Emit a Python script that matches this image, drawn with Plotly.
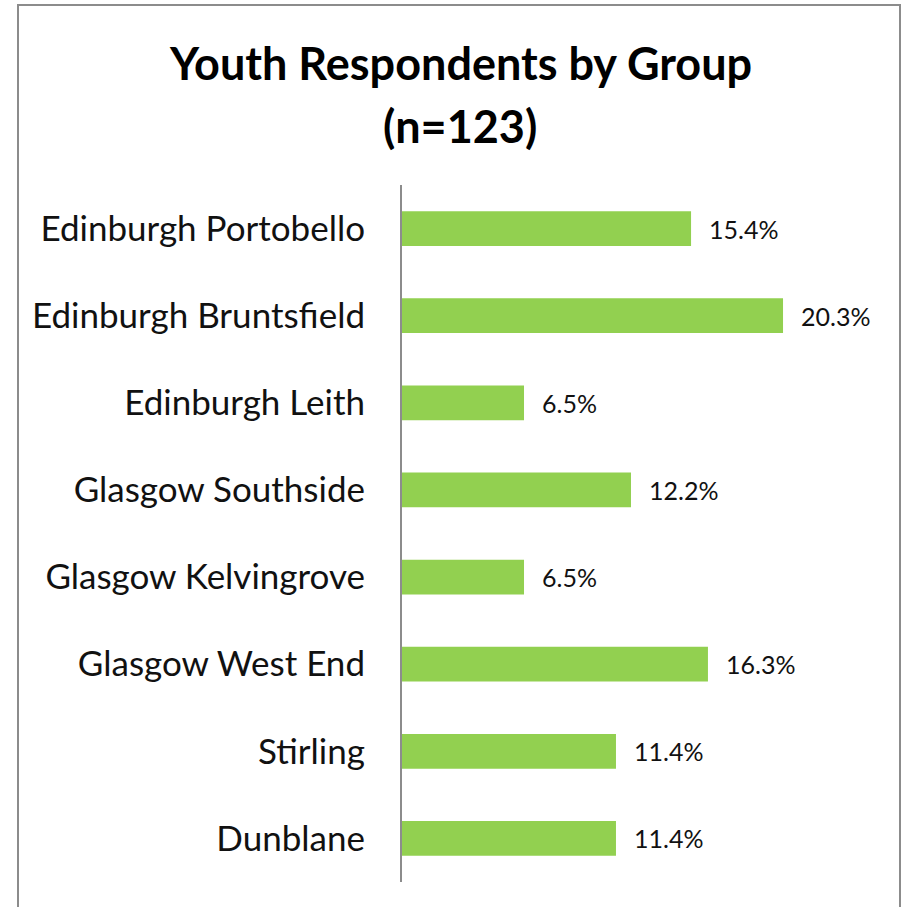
import plotly.graph_objects as go

categories = ["Edinburgh Portobello", "Edinburgh Bruntsfield", "Edinburgh Leith",
              "Glasgow Southside", "Glasgow Kelvingrove", "Glasgow West End",
              "Stirling", "Dunblane"]
values = [15.4, 20.3, 6.5, 12.2, 6.5, 16.3, 11.4, 11.4]
labels = [f"{v:.1f}%" for v in values]

W, H = 901, 907
L, R, T, B = 402, 21, 185, 25
pw, ph = W - L - R, H - T - B

def px_x(x):
    return (x - L) / pw

def px_y(y):
    return (H - B - y) / ph

FONT = "Lato"

fig = go.Figure(go.Bar(
    x=values, y=categories, orientation="h",
    marker=dict(color="#92D050", line=dict(width=0)),
    width=0.4,
))

annotations = [
    dict(text="Youth Respondents by Group", xref="paper", yref="paper",
         x=px_x(460), y=px_y(63), xanchor="center", yanchor="middle",
         showarrow=False, font=dict(family=FONT, size=45, color="black", weight="bold")),
    dict(text="(n=123)", xref="paper", yref="paper",
         x=px_x(460), y=px_y(126), xanchor="center", yanchor="middle",
         showarrow=False, font=dict(family=FONT, size=45, color="black", weight="bold")),
]
for c, v, t in zip(categories, values, labels):
    annotations.append(dict(text=t, x=v, y=c, xref="x", yref="y", xanchor="left",
                            yanchor="middle", xshift=16, showarrow=False,
                            font=dict(family=FONT, size=25, color="#111111")))

fig.update_layout(
    width=W, height=H,
    margin=dict(l=L, r=R, t=T, b=B),
    paper_bgcolor="white", plot_bgcolor="white",
    showlegend=False,
    xaxis=dict(range=[0, pw / 18.77], visible=False, fixedrange=True),
    yaxis=dict(autorange="reversed", showline=True, linecolor="#8c8c8c", linewidth=2,
               ticks="", showgrid=False, ticklabelstandoff=28,
               tickfont=dict(family=FONT, size=35, color="#111111")),
    annotations=annotations,
    shapes=[
        dict(type="rect", xref="paper", yref="paper",
             x0=px_x(18), x1=px_x(900), y0=px_y(912), y1=px_y(5),
             line=dict(color="#8c8c8c", width=2), fillcolor="rgba(0,0,0,0)", layer="below"),
    ],
)

fig.write_html("out.html")
